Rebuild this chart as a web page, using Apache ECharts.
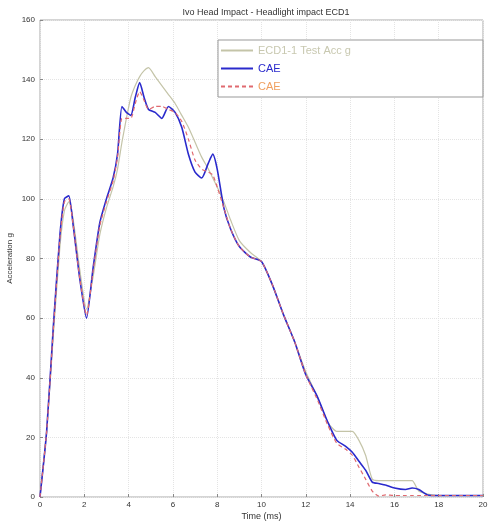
<!DOCTYPE html>
<html><head><meta charset="utf-8">
<script src="https://cdn.jsdelivr.net/npm/echarts@6/dist/echarts.min.js"></script>
<style>html,body{margin:0;padding:0;background:#fff}#c{width:491px;height:529px}</style>
</head><body><div id="c"></div>
<script>
var titleText = 'Ivo Head Impact - Headlight impact ECD1';
var seriesNames = ['ECD1-1 Test Acc g', 'CAE', 'CAE'];
var times = [0,0.3,0.6,0.9,1.1,1.3,1.5,1.8,2.1,2.4,2.7,3.0,3.3,3.5,3.7,3.9,4.1,4.3,4.5,4.7,4.9,5.2,5.5,5.8,6.1,6.4,6.7,7.0,7.3,7.6,7.8,8.0,8.3,8.6,9.0,9.5,10,10.5,11,11.5,12,12.5,13,13.4,13.8,14.1,14.4,14.7,15.0,15.3,15.6,16,16.5,16.8,17.1,17.5,18,19,20];
var testAcc = [0,22,54,84,96,99,93,76,63,74,88,97,104,110,119,127,134,138,141,143,144,141,138,135,132,128,124,119,114,110,107,104,99,93,86,82,79,71,61,52,42,34,25,22,22,22,19,14,6,5.5,5.5,5.5,5.5,5.5,2,1,0.5,0.5,0.5];
var caeBlue = [0,22,57,88,100,101,91,73,60,77,92,100,107,115,131,129,128,134,139,134,130,129,127,131,129,124,115,109,107,112,115,110,97,90,84,80.5,79,71,61,52,41,34,25,19,17,15,12,9,5,4.5,4,3,2.5,3,2.5,0.7,0.5,0.5,0.5];
var caeRed = [0,22,56,87,99,100,91,73,61,76,91,99,106,114,127,127,127,132,136,133,130,131,131,130,129,126,120,113,110,109,108,104,97,90,84,80.5,79,71,61,52,41,33,24,18,16,14,10,6,2,0.3,0.7,0.5,0.5,0.5,0.5,0.5,0.5,0.5,0.5];
var xTicks = {min:0, max:20, interval:2};
var yTicks = {min:0, max:160, interval:20};

function pairs(v){ return times.map(function(t,i){ return [t, v[i]]; }); }

var chart = echarts.init(document.getElementById('c'), null, {renderer:'canvas'});
var font = 'Liberation Sans, Arial, sans-serif';
chart.setOption({
  animation:false,
  backgroundColor:'#fff',
  title:{text:titleText, left:261, textAlign:'center', top:3, textStyle:{fontSize:9, fontWeight:'normal', color:'#333', fontFamily:font}},
  grid:{left:40, right:8, top:20, bottom:32, show:true, borderColor:'#aaa', borderWidth:1, outerBoundsMode:'none', containLabel:false},
  legend:{
    orient:'vertical', left:218, top:40, itemWidth:32, itemHeight:10, itemGap:7,
    padding:[5,132,5,2], borderColor:'#999', borderWidth:1, backgroundColor:'#fff',
    itemStyle:{opacity:0},
    textStyle:{fontSize:11, fontFamily:font},
    data:[
      {name:seriesNames[0], textStyle:{color:'#c8c8b0'}},
      {name:seriesNames[1], textStyle:{color:'#2a2acc'}},
      {name:seriesNames[2]+' ', textStyle:{color:'#f0a060'}}
    ]
  },
  xAxis:{type:'value', min:xTicks.min, max:xTicks.max, interval:xTicks.interval,
    name:'Time (ms)', nameLocation:'middle', nameGap:15, nameMoveOverlap:false, nameTextStyle:{fontSize:9, color:'#333', fontFamily:font},
    axisLine:{show:false}, axisTick:{show:true, length:3, inside:true, lineStyle:{color:'#888'}},
    axisLabel:{fontSize:8, color:'#333', margin:4, fontFamily:font},
    splitLine:{show:true, lineStyle:{color:'#e4e4e4', type:'dotted'}}},
  yAxis:{type:'value', min:yTicks.min, max:yTicks.max, interval:yTicks.interval,
    name:'Acceleration g', nameLocation:'middle', nameGap:26, nameMoveOverlap:false, nameTextStyle:{fontSize:8, color:'#333', fontFamily:font},
    axisLine:{show:false}, axisTick:{show:true, length:3, inside:true, lineStyle:{color:'#888'}},
    axisLabel:{fontSize:8, color:'#333', margin:5, fontFamily:font},
    splitLine:{show:true, lineStyle:{color:'#e4e4e4', type:'dotted'}}},
  series:[
    {name:seriesNames[0], type:'line', data:pairs(testAcc), showSymbol:false, symbol:'none', smooth:0.2,
      lineStyle:{color:'#c4c4a8', width:1.2}, itemStyle:{color:'#c4c4a8'}, z:1},
    {name:seriesNames[1], type:'line', data:pairs(caeBlue), showSymbol:false, symbol:'none', smooth:0.2,
      lineStyle:{color:'#2a2acc', width:1.6}, itemStyle:{color:'#2a2acc'}, z:2},
    {name:seriesNames[2]+' ', type:'line', data:pairs(caeRed), showSymbol:false, symbol:'none', smooth:0.2,
      lineStyle:{color:'#e06a70', width:1.2, type:[4,3]}, itemStyle:{color:'#e06a70'}, z:3}
  ]
});
</script></body></html>
